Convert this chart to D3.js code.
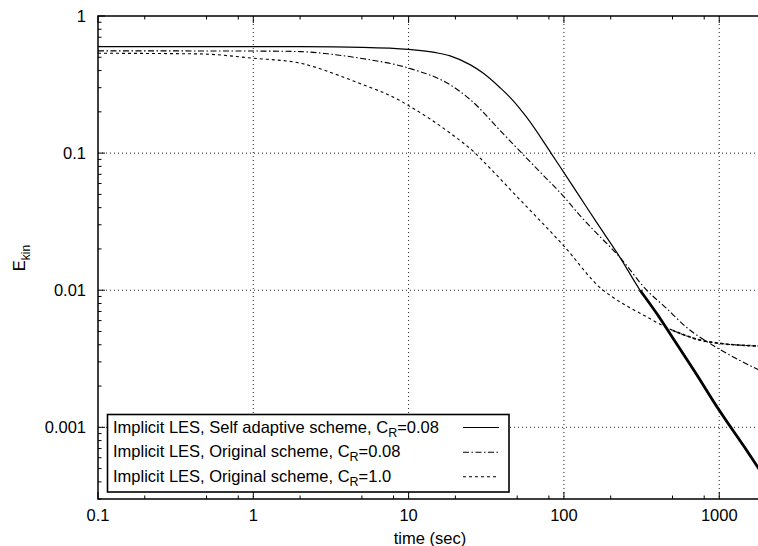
<!DOCTYPE html>
<html>
<head>
<meta charset="utf-8">
<script src="https://cdn.jsdelivr.net/npm/d3@7"></script>
<style>
body{margin:0;background:#fff;}
svg{display:block;font-family:"Liberation Sans",Arial,Helvetica,sans-serif;}
</style>
</head>
<body>
<div id="chart"></div>
<script>
// data
var tSelf=[0.1,1,2,5,10,15,18.5,25,30,38.8,45,57,82.6,100,127,160,230,309,400,500,700,1000,1500,2000];
var eSelf=[0.598,0.598,0.597,0.59,0.57,0.54,0.512,0.44,0.385,0.30,0.255,0.185,0.1,0.072,0.0477,0.032,0.0173,0.01,0.00665,0.00452,0.00252,0.00133,0.00068,0.000416];

var tOrig08=[0.1,1,2,3,5,10,18.5,25,40,53.5,70,100,127,160,230,341,450,617,1000,1750,2000];
var eOrig08=[0.557,0.555,0.55,0.53,0.49,0.417,0.315,0.245,0.141,0.1,0.073,0.048,0.035,0.0265,0.0173,0.01,0.0075,0.00535,0.00372,0.00266,0.00247];

var tOrig10=[0.1,0.45,1,2,4.2,5,8.6,10,18.5,26.8,30,50,100,175,200,230,324,500,752,1000,1500,2000];
var eOrig10=[0.535,0.529,0.492,0.453,0.343,0.318,0.245,0.222,0.140,0.1,0.088,0.048,0.021,0.0102,0.0091,0.0082,0.0066,0.0051,0.00433,0.0041,0.00395,0.0039];

var xTicks=[0.1,1,10,100,1000];
var xTickLabels=["0.1","1","10","100","1000"];
var yTicks=[1,0.1,0.01,0.001];
var yTickLabels=["1","0.1","0.01","0.001"];
var xMinorMant=[2,5,8];
var yMinorMant=[2,3,4,5,6,7,8,9];

var legendMain=["Implicit LES, Self adaptive scheme, C","Implicit LES, Original scheme, C","Implicit LES, Original scheme, C"];
var legendSub=["R","R","R"];
var legendTail=["=0.08","=0.08","=1.0"];

var W=758,H=546;
var pL=98,pT=16,pR=766,pB=499;
var fs=16.5;

var svg=d3.select("#chart").append("svg").attr("width",W).attr("height",H);

var x=d3.scaleLog().domain([0.1,2000]).range([pL,pR]);
var y=d3.scaleLog().domain([0.0003,1]).range([pB,pT]);

svg.append("defs").append("clipPath").attr("id","plotclip")
  .append("rect").attr("x",pL).attr("y",pT).attr("width",pR-pL).attr("height",pB-pT);

//grid
var grid=svg.append("g").attr("class","grid");
grid.selectAll(null).data(xTicks.slice(1)).enter().append("line")
  .attr("x1",function(d){return x(d);}).attr("x2",function(d){return x(d);})
  .attr("y1",pT).attr("y2",pB)
  .attr("style","stroke:#222;stroke-width:1;stroke-dasharray:1,3");
grid.selectAll(null).data(yTicks.slice(1)).enter().append("line")
  .attr("x1",pL).attr("x2",pR)
  .attr("y1",function(d){return y(d);}).attr("y2",function(d){return y(d);})
  .attr("style","stroke:#222;stroke-width:1;stroke-dasharray:1,3");

//ticks
var xMinor=[],yMinor=[];
xTicks.forEach(function(d){xMinorMant.forEach(function(m){if(d*m<2000)xMinor.push(d*m);});});
[0.0001,0.001,0.01,0.1].forEach(function(d){yMinorMant.forEach(function(m){if(d*m>0.0003)yMinor.push(d*m);});});

var ticks=svg.append("g").attr("class","ticks").attr("style","stroke:#000;stroke-width:1");
function xTick(vals,len){
  ticks.selectAll(null).data(vals).enter().append("line")
    .attr("x1",function(d){return x(d);}).attr("x2",function(d){return x(d);})
    .attr("y1",pB).attr("y2",pB-len);
  ticks.selectAll(null).data(vals).enter().append("line")
    .attr("x1",function(d){return x(d);}).attr("x2",function(d){return x(d);})
    .attr("y1",pT).attr("y2",pT+len);
}
function yTick(vals,len){
  ticks.selectAll(null).data(vals).enter().append("line")
    .attr("x1",pL).attr("x2",pL+len)
    .attr("y1",function(d){return y(d);}).attr("y2",function(d){return y(d);});
}
xTick(xTicks,7);
xTick(xMinor,3.5);
yTick(yTicks,7);
yTick(yMinor,3.5);

//curves
var line=d3.line().x(function(d){return x(d[0]);}).y(function(d){return y(d[1]);}).curve(d3.curveMonotoneX);
function pairs(t,e){return t.map(function(v,i){return [v,e[i]];});}
var curves=svg.append("g").attr("clip-path","url(#plotclip)");
var pSelf=pairs(tSelf,eSelf),p08=pairs(tOrig08,eOrig08),p10=pairs(tOrig10,eOrig10);

curves.append("path").attr("d",line(p10))
  .attr("style","fill:none;stroke:#000;stroke-width:1.1;stroke-dasharray:3,3");
curves.append("path").attr("d",line(p10.filter(function(d){return d[0]>=500;})))
  .attr("style","fill:none;stroke:#000;stroke-width:1.7;stroke-dasharray:3,2.5");
curves.append("path").attr("d",line(p08))
  .attr("style","fill:none;stroke:#000;stroke-width:1.1;stroke-dasharray:6,2.5,1.5,2.5");
curves.append("path").attr("d",line(pSelf))
  .attr("style","fill:none;stroke:#000;stroke-width:1.2");
// noisy tail of the self adaptive run looks thick
curves.append("path").attr("d",line(pSelf.filter(function(d){return d[0]>=309;})))
  .attr("style","fill:none;stroke:#000;stroke-width:2.8");

//frame
svg.append("path").attr("d","M"+pR+","+pT+"H"+pL+"V"+pB+"H"+pR)
  .attr("style","fill:none;stroke:#000;stroke-width:1.5");

//tick labels
svg.selectAll(null).data(xTicks).enter().append("text")
  .attr("x",function(d){return x(d);}).attr("y",521)
  .attr("text-anchor","middle").attr("font-size",fs)
  .text(function(d,i){return xTickLabels[i];});
svg.selectAll(null).data(yTicks).enter().append("text")
  .attr("x",86).attr("y",function(d){return y(d)+5.5;})
  .attr("text-anchor","end").attr("font-size",fs)
  .text(function(d,i){return yTickLabels[i];});

//axis titles
svg.append("text").attr("x",430).attr("y",544).attr("text-anchor","middle").attr("font-size",fs).text("time (sec)");
var yl=svg.append("text").attr("transform","translate(25,258) rotate(-90)").attr("text-anchor","middle").attr("font-size",fs);
yl.append("tspan").text("E");
yl.append("tspan").attr("font-size",12).attr("dy",5).text("kin");

//legend
var lg=svg.append("g").attr("class","legend");
lg.append("rect").attr("x",107.5).attr("y",414.5).attr("width",401.5).attr("height",77.5)
  .attr("style","fill:#fff;stroke:#000;stroke-width:1.6");
var rowY=[432.5,457.3,481.8];
var styles=["","6,2.5,1.5,2.5","3,3"];
legendMain.forEach(function(s,i){
  var t=lg.append("text").attr("x",113).attr("y",rowY[i]).attr("font-size",fs);
  t.append("tspan").text(s);
  t.append("tspan").attr("font-size",12.5).attr("dy",4).text(legendSub[i]);
  t.append("tspan").attr("dy",-4).text(legendTail[i]);
  lg.append("line").attr("x1",463).attr("x2",499).attr("y1",rowY[i]-5).attr("y2",rowY[i]-5)
    .attr("style","stroke:#000;stroke-width:1.1;"+(styles[i]?"stroke-dasharray:"+styles[i]:""));
});
</script>
</body>
</html>
